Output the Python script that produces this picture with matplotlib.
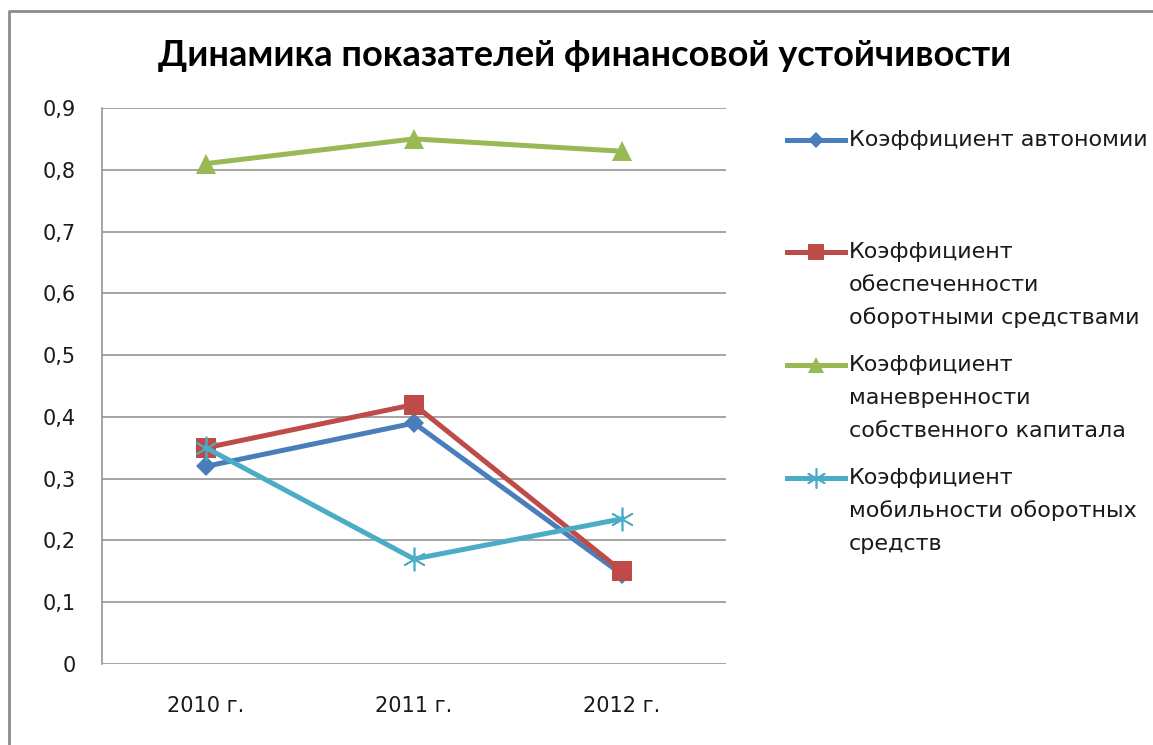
import matplotlib
matplotlib.use("Agg")
import matplotlib.pyplot as plt
from matplotlib.lines import Line2D

years = ["2010 г.", "2011 г.", "2012 г."]
autonomy = [0.32, 0.39, 0.145]
working_capital = [0.35, 0.42, 0.15]
maneuverability = [0.81, 0.85, 0.83]
mobility = [0.35, 0.17, 0.235]

labels = [
    ["Коэффициент автономии"],
    ["Коэффициент", "обеспеченности", "оборотными средствами"],
    ["Коэффициент", "маневренности", "собственного капитала"],
    ["Коэффициент", "мобильности оборотных", "средств"],
]
series = [autonomy, working_capital, maneuverability, mobility]
colors = ["#4A7EBB", "#BE4B48", "#98B954", "#4BACC6"]
markers = ["D", "s", "^", (6, 2, 0)]
msizes = [10, 14, 14, 17]

W, H = 1153, 745
fig = plt.figure(figsize=(W / 100, H / 100), dpi=100)
ax = fig.add_axes([102 / W, 1 - 664 / H, 624 / W, 556 / H])

x = range(len(years))
for vals, c, m, ms in zip(series, colors, markers, msizes):
    mew = 1.2 if m == (6, 2, 0) else 0
    ax.plot(x, vals, color=c, lw=3.6, marker=m, markersize=ms,
            markeredgewidth=mew, markeredgecolor=c, zorder=3)

ax.set_xlim(-0.5, 2.5)
ax.set_ylim(0, 0.9)
ax.set_yticks([i / 10 for i in range(10)])
ax.set_yticklabels(["0"] + [f"0,{i}" for i in range(1, 10)])
ax.set_xticks(list(x))
ax.set_xticklabels(years)
ax.tick_params(length=0, labelsize=15, colors="#1a1a1a")
ax.tick_params(axis="y", pad=19)
ax.tick_params(axis="x", pad=23)
ax.yaxis.grid(True, color="#8c8c8c", lw=1.1)
ax.set_axisbelow(True)
for s in ["top", "right", "bottom"]:
    ax.spines[s].set_visible(False)
ax.spines["left"].set_color("#8c8c8c")
ax.spines["left"].set_linewidth(1.1)

fig.text(585 / W, 1 - 55 / H, "Динамика показателей финансовой устойчивости",
         ha="center", va="center", fontsize=26, fontweight="bold",
         family="Lato", color="#000000")

# legend, spaced like Excel does it
leg_y = [140, 252, 365, 478]
for lines, c, m, ms, y in zip(labels, colors, markers, msizes, leg_y):
    mew = 1.2 if m == (6, 2, 0) else 0
    fig.add_artist(Line2D([787 / W, 816 / W, 845 / W], [1 - y / H] * 3,
                          transform=fig.transFigure, color=c, lw=3.6,
                          marker=m, markersize=ms * 0.85, markevery=[1],
                          markeredgewidth=mew, markeredgecolor=c))
    for i, t in enumerate(lines):
        fig.text(849 / W, 1 - (y + i * 33) / H, t, ha="left", va="center",
                 fontsize=16, color="#1a1a1a")

# chart border
fig.add_artist(Line2D([9 / W, 9 / W, 1], [0, 1 - 11 / H, 1 - 11 / H],
                      transform=fig.transFigure, color="#8c8c8c", lw=2))

fig.savefig("out.png", dpi=100, facecolor="white")
